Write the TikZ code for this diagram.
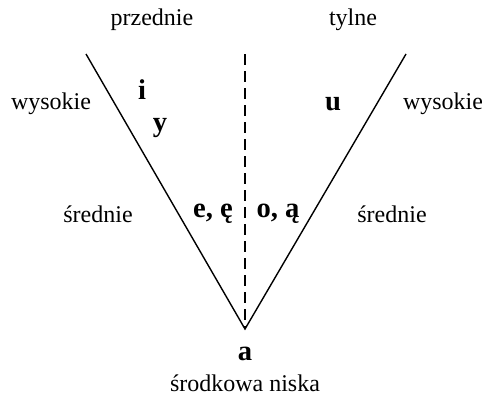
\documentclass[tikz,border=0pt]{standalone}
\usepackage{fontspec}
\setmainfont{Liberation Serif}
\begin{document}
\begin{tikzpicture}[x=0.5pt,y=-0.5pt,
  lbl/.style={font=\fontsize{12}{14}\selectfont, inner sep=0pt},
  vow/.style={font=\fontsize{14.3}{16}\selectfont\bfseries, inner sep=0pt},
  edge/.style={line width=0.7pt}]
\useasboundingbox (0,0) rectangle (482,396);
\coordinate (tl) at (86,54);
\coordinate (tr) at (406,54);
\coordinate (tm) at (245,54);
\coordinate (apex) at (245,329);
\draw[edge] (tl) -- (apex) -- (tr);
\draw[edge, dashed, dash pattern=on 5.5pt off 3pt] (tm) -- (apex);
\node[lbl] (przednie) at (152,20) {przednie};
\node[lbl] (tylne) at (353,20) {tylne};
\node[lbl] (wysL) at (51,104) {wysokie};
\node[lbl] (wysR) at (443,104) {wysokie};
\node[lbl] (srL) at (98,214) {średnie};
\node[lbl] (srR) at (392,214) {średnie};
\node[vow] (i) at (142,90) {i};
\node[vow] (y) at (160,128) {y};
\node[vow] (u) at (333,104) {u};
\node[vow] (e) at (213,214) {e, ę};
\node[vow] (o) at (278,214) {o, ą};
\node[vow] (a) at (245,354) {a};
\node[lbl] (sn) at (245,383) {środkowa niska};
\end{tikzpicture}
\end{document}
